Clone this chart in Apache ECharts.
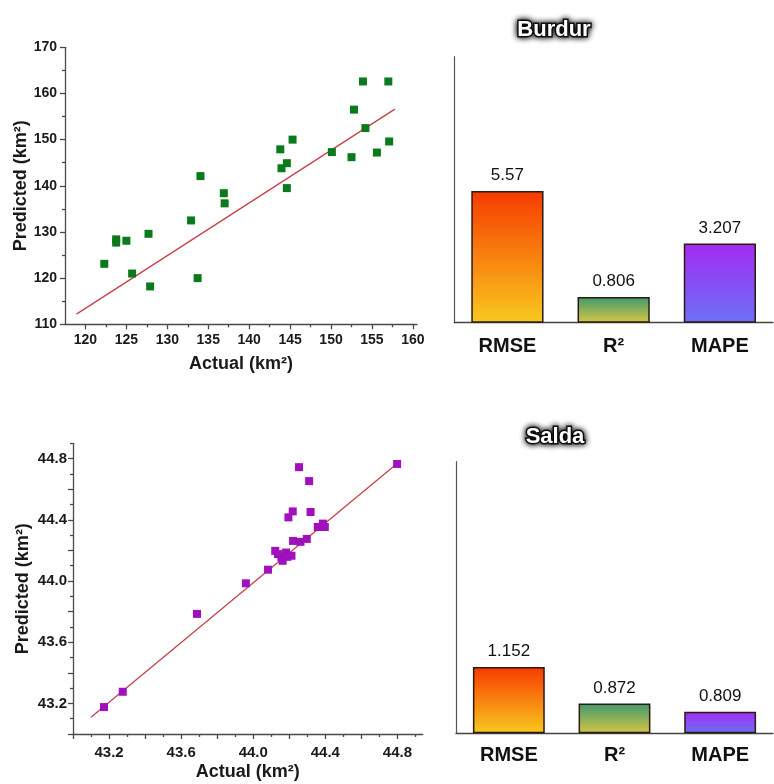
<!DOCTYPE html>
<html>
<head>
<meta charset="utf-8">
<script src="https://cdn.jsdelivr.net/npm/echarts@6/dist/echarts.min.js"></script>
<style>html,body{margin:0;padding:0;background:#fff;}#c{width:774px;height:784px;}</style>
</head>
<body>
<div id="c"></div>
<script>
// ---- Data ----
var burdurActual = [122.3,123.75,123.75,125.0,125.7,127.7,127.9,132.9,133.7,134.05,136.9,137.0,143.8,143.95,144.6,144.6,145.3,150.1,152.5,152.8,153.9,154.2,155.6,157.0,157.1];
var burdurPred   = [123.1,128.4,127.7,128.1,121.0,129.6,118.2,132.5,120.0,142.1,138.4,136.2,147.9,143.8,144.9,139.5,150.0,147.3,146.2,156.5,162.6,152.5,147.2,162.6,149.6];
var burdurFit = [[118.9,112.2],[157.8,156.6]];

var saldaActual = [43.172,43.276,43.688,43.959,44.082,44.122,44.137,44.156,44.163,44.182,44.189,44.212,44.195,44.219,44.221,44.254,44.262,44.297,44.310,44.318,44.358,44.386,44.397,44.798];
var saldaPred   = [43.176,43.276,43.785,43.985,44.074,44.197,44.176,44.154,44.132,44.186,44.158,44.165,44.416,44.455,44.262,44.744,44.256,44.275,44.653,44.451,44.353,44.375,44.353,44.765];
var saldaFit = [[43.10,43.11],[44.80,44.77]];

var metricNames = ['RMSE','R²','MAPE'];
var burdurMetrics = [5.57,0.806,3.207];
var saldaMetrics = [1.152,0.872,0.809];

var burdurXTicks = [120,125,130,135,140,145,150,155,160];
var burdurXMinor = [122.5,127.5,132.5,137.5,142.5,147.5,152.5,157.5];
var burdurYTicks = [110,120,130,140,150,160,170];
var burdurYMinor = [115,125,135,145,155,165];
var saldaLabels = [43.2,43.6,44.0,44.4,44.8];
var saldaMajor = [43.0,43.2,43.4,43.6,43.8,44.0,44.2,44.4,44.6,44.8];
var saldaMinor = [43.1,43.3,43.5,43.7,43.9,44.1,44.3,44.5,44.7,44.9];

// ---- Styles ----
var FONT = 'Liberation Sans, Arial, sans-serif';
var axisLineStyle = {color:'#4a4a4a', width:1.3};
function pairs(xs, ys){ return xs.map(function(x,i){ return [x, ys[i]]; }); }
function grad(top, bottom){
  return new echarts.graphic.LinearGradient(0,0,0,1,[{offset:0,color:top},{offset:1,color:bottom}]);
}
var barColors = [grad('#f73a00','#f9c91e'), grad('#3f9a6e','#d6c543'), grad('#a42bf1','#6a72f7')];

function valAxis(o){
  var a = {
    type:'value', gridIndex:o.grid, min:o.min, max:o.max, position:o.pos,
    splitLine:{show:false},
    axisLine:{show:o.line!==false, onZero:false, lineStyle:axisLineStyle},
    axisTick:{show:true, inside:false, length:o.len, lineStyle:axisLineStyle, customValues:o.ticks},
    axisLabel:o.labels ? {show:true, customValues:o.labels, margin:o.margin, fontFamily:FONT, fontWeight:'bold', fontSize:o.fs, color:'#1a1a1a', formatter:o.fmt} : {show:false}
  };
  if (o.name){
    a.name = o.name; a.nameLocation='middle'; a.nameGap=o.gap;
    a.nameTextStyle = {fontFamily:FONT, fontWeight:'bold', fontSize:18, color:'#1a1a1a'};
  }
  return a;
}
function f1(v){ return v.toFixed(1); }

var option = {
  backgroundColor:'#fff',
  animation:false,
  title:[
    {text:'Burdur', left:549, top:14, textAlign:'center',
     textStyle:{fontFamily:FONT, fontWeight:'bold', fontSize:22, color:'#fff', textBorderColor:'#111', textBorderWidth:3, textShadowColor:'#000', textShadowBlur:6}},
    {text:'Salda', left:550, top:421, textAlign:'center',
     textStyle:{fontFamily:FONT, fontWeight:'bold', fontSize:22, color:'#fff', textBorderColor:'#111', textBorderWidth:3, textShadowColor:'#000', textShadowBlur:6}}
  ],
  grid:[
    {left:65, top:47.3, width:352, height:277},
    {left:73, top:443.3, width:349.7, height:290.7},
    {left:454.3, top:56.7, width:318.7, height:266},
    {left:456, top:461.7, width:317, height:271.6}
  ],
  xAxis:[
    valAxis({grid:0, min:117.5, max:160.5, pos:'bottom', len:5, ticks:burdurXTicks, labels:burdurXTicks, margin:9, fs:14, name:'Actual (km²)', gap:31}),
    valAxis({grid:1, min:43.0, max:44.94, pos:'bottom', len:5, ticks:saldaMajor, labels:saldaLabels, margin:11, fs:15, fmt:f1, name:'Actual (km²)', gap:29}),
    {type:'category', gridIndex:2, data:metricNames,
     axisLine:{onZero:false, lineStyle:{color:'#444', width:1.3}}, axisTick:{show:false},
     axisLabel:{margin:14, fontFamily:FONT, fontWeight:'bold', fontSize:20, color:'#111'}},
    {type:'category', gridIndex:3, data:metricNames,
     axisLine:{onZero:false, lineStyle:{color:'#444', width:1.3}}, axisTick:{show:false},
     axisLabel:{margin:12, fontFamily:FONT, fontWeight:'bold', fontSize:20, color:'#111'}},
    valAxis({grid:0, min:117.5, max:160.5, pos:'bottom', len:3, ticks:burdurXMinor, line:false}),
    valAxis({grid:1, min:43.0, max:44.94, pos:'bottom', len:3, ticks:saldaMinor, line:false})
  ],
  yAxis:[
    valAxis({grid:0, min:110, max:170, pos:'left', len:5, ticks:burdurYTicks, labels:burdurYTicks, margin:8, fs:14, name:'Predicted (km²)', gap:34}),
    valAxis({grid:1, min:43.0, max:44.9, pos:'left', len:5, ticks:saldaMajor, labels:saldaLabels, margin:6, fs:15, fmt:f1, name:'Predicted (km²)', gap:41}),
    {type:'value', gridIndex:2, min:-0.353, max:11.6, startValue:-0.353,
     splitLine:{show:false}, axisTick:{show:false}, axisLabel:{show:false},
     axisLine:{show:true, onZero:false, lineStyle:{color:'#555', width:1.2}}},
    {type:'value', gridIndex:3, min:0.643, max:2.729, startValue:0.643,
     splitLine:{show:false}, axisTick:{show:false}, axisLabel:{show:false},
     axisLine:{show:true, onZero:false, lineStyle:{color:'#555', width:1.2}}},
    valAxis({grid:0, min:110, max:170, pos:'left', len:3, ticks:burdurYMinor, line:false}),
    valAxis({grid:1, min:43.0, max:44.9, pos:'left', len:3, ticks:saldaMinor, line:false})
  ],
  series:[
    {type:'line', xAxisIndex:0, yAxisIndex:0, data:burdurFit, symbol:'none', lineStyle:{color:'#c8404a', width:1.3}, z:2},
    {type:'scatter', xAxisIndex:0, yAxisIndex:0, data:pairs(burdurActual, burdurPred), symbol:'rect', symbolSize:8, itemStyle:{color:'#0a7a1c', opacity:1}, z:3},
    {type:'line', xAxisIndex:1, yAxisIndex:1, data:saldaFit, symbol:'none', lineStyle:{color:'#c8404a', width:1.3}, z:2},
    {type:'scatter', xAxisIndex:1, yAxisIndex:1, data:pairs(saldaActual, saldaPred), symbol:'rect', symbolSize:8, itemStyle:{color:'#a010bd', opacity:1}, z:3},
    {type:'bar', xAxisIndex:2, yAxisIndex:2, barWidth:'68%',
     data:burdurMetrics.map(function(v,i){ return {value:v, itemStyle:{color:barColors[i]}}; }),
     itemStyle:{borderColor:'#2a1a12', borderWidth:1.5},
     label:{show:true, position:'top', distance:7, fontFamily:FONT, fontSize:17, color:'#111'}},
    {type:'bar', xAxisIndex:3, yAxisIndex:3, barWidth:'68%',
     data:saldaMetrics.map(function(v,i){ return {value:v, itemStyle:{color:barColors[i]}}; }),
     itemStyle:{borderColor:'#2a1a12', borderWidth:1.5},
     label:{show:true, position:'top', distance:7, fontFamily:FONT, fontSize:17, color:'#111'}}
  ]
};
var chart = echarts.init(document.getElementById('c'), null, {renderer:'canvas'});
chart.setOption(option);
</script>
</body>
</html>
